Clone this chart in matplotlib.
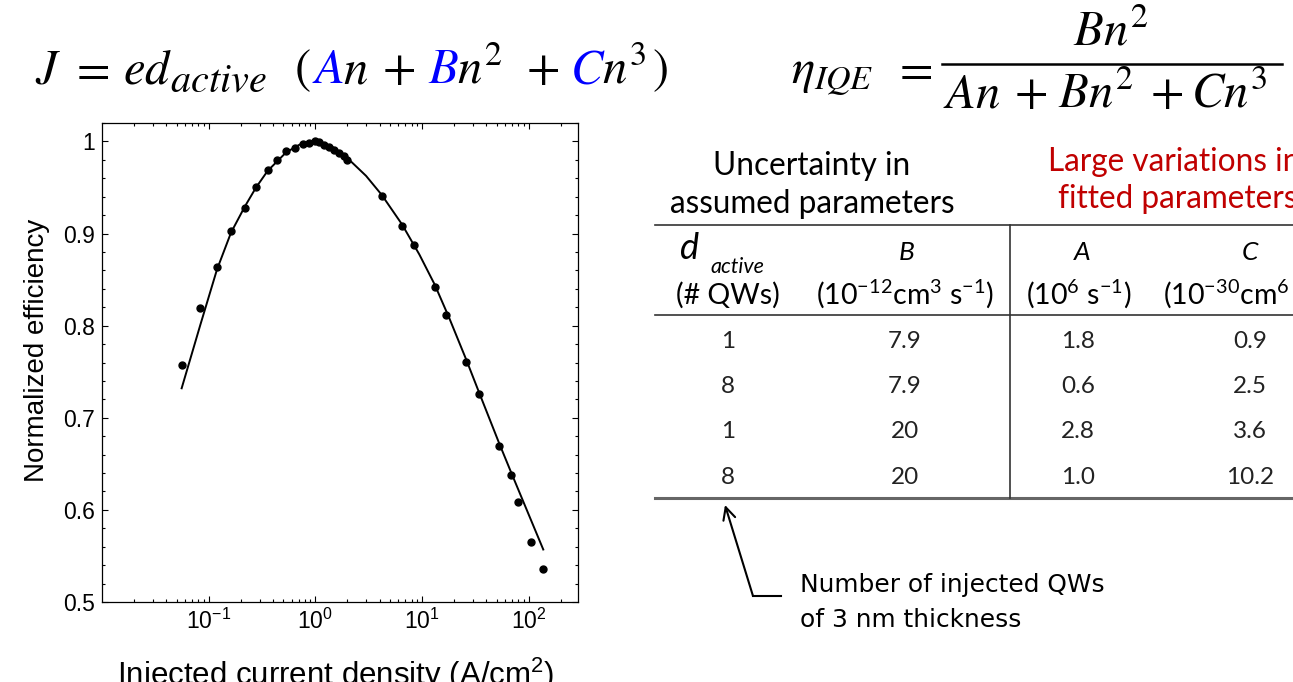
import numpy as np
import matplotlib
matplotlib.use('Agg')
import matplotlib.pyplot as plt
from matplotlib.ticker import FixedLocator, MultipleLocator, FuncFormatter, LogLocator, NullFormatter
from matplotlib.lines import Line2D

plt.rcParams['font.family'] = ['Liberation Sans', 'DejaVu Sans']
plt.rcParams['mathtext.fontset'] = 'custom'
plt.rcParams['mathtext.rm'] = 'Liberation Sans'
plt.rcParams['mathtext.it'] = 'Liberation Sans:italic'
plt.rcParams['mathtext.bf'] = 'Liberation Sans:bold'

# ---------------- data ----------------
J_meas = [0.0558, 0.0836, 0.1197, 0.162, 0.2175, 0.278, 0.357, 0.4375, 0.531, 0.64,
          0.772, 0.866, 1.0, 1.09, 1.21, 1.35, 1.51, 1.68, 1.87, 1.97,
          4.19, 6.49, 8.48, 13.15, 16.8, 26.0, 34.0, 53.1, 68.3, 78.8, 105, 137]
eff_meas = [0.7575, 0.8192, 0.8639, 0.9027, 0.9281, 0.9506, 0.9688, 0.980, 0.9898, 0.9924,
            0.997, 0.998, 1.0, 0.999, 0.9964, 0.9935, 0.9906, 0.987, 0.9837, 0.9797,
            0.9405, 0.9078, 0.8871, 0.8421, 0.8113, 0.7608, 0.7256, 0.6689, 0.6382, 0.6085, 0.5651, 0.5354]
J_fit = [0.0558, 0.0836, 0.1197, 0.162, 0.2175, 0.278, 0.357, 0.531, 0.708, 1.0,
         1.45, 1.97, 2.99, 4.19, 6.49, 9.44, 13.15, 18.0, 26.0, 34.0, 53.1, 68.3, 137]
eff_fit = [0.732, 0.801, 0.861, 0.901, 0.929, 0.950, 0.968, 0.988, 0.9964, 1.0,
           0.994, 0.9826, 0.9626, 0.942, 0.910, 0.8773, 0.8446, 0.8083, 0.763, 0.7285, 0.6718, 0.641, 0.557]
xtick_vals = [0.1, 1, 10, 100]
xtick_labels = [r'$10^{-1}$', r'$10^{0}$', r'$10^{1}$', r'$10^{2}$']

# table data
table_title_left = ['Uncertainty in', 'assumed parameters']
table_title_right = ['Large variations in', 'fitted parameters']
d_active = ['1', '8', '1', '8']
B_vals = ['7.9', '7.9', '20', '20']
A_vals = ['1.8', '0.6', '2.8', '1.0']
C_vals = ['0.9', '2.5', '3.6', '10.2']

W, H = 1293, 682
fig = plt.figure(figsize=(W / 100, H / 100), dpi=100)

# ---------------- chart ----------------
ax = fig.add_axes([102 / W, (H - 602) / H, 476 / W, 479 / H])
ax.set_xscale('log')
ax.plot(J_fit, eff_fit, color='black', lw=1.4, zorder=2)
ax.plot(J_meas, eff_meas, 'o', color='black', ms=5, zorder=3)
ax.set_xlim(0.01, 290)
ax.set_ylim(0.5, 1.02)
ax.xaxis.set_major_locator(FixedLocator(xtick_vals))
ax.xaxis.set_minor_locator(LogLocator(base=10, subs=np.arange(2, 10)))
ax.xaxis.set_minor_formatter(NullFormatter())
ax.set_xticklabels(xtick_labels)
ax.yaxis.set_major_locator(MultipleLocator(0.1))
ax.yaxis.set_minor_locator(MultipleLocator(0.02))
ax.yaxis.set_major_formatter(FuncFormatter(lambda v, p: f'{v:g}'))
ax.tick_params(which='both', direction='in', top=True, right=True, labelsize=16.5, width=0.8)
ax.tick_params(which='major', length=4.5, pad=5)
ax.tick_params(which='minor', length=2.5)
for s in ax.spines.values():
    s.set_linewidth(0.9)
ax.set_ylabel('Normalized efficiency', fontsize=20)
ax.yaxis.label.set_va('center')
ax.yaxis.set_label_coords(-0.1366, 0.526)
ax.set_xlabel('Injected current density (A/cm$^2$)', fontsize=22.5)
ax.xaxis.set_label_coords(0.49, -0.112)

# ---------------- overlay in pixel coords ----------------
ov = fig.add_axes([0, 0, 1, 1])
ov.set_xlim(0, W)
ov.set_ylim(H, 0)
ov.axis('off')
ov.patch.set_alpha(0)

blue = '#0000FF'
eq_fs = 35


def eq(x, y, s, color='black', ha='left', fs=eq_fs):
    ov.text(x, y, s, color=color, fontsize=fs, math_fontfamily='stix', ha=ha, va='baseline')


# equation 1 (glyph groups placed as in the reference)
base1 = 83
eq(35, base1, r'$J$')
eq(89, base1, r'$=$', ha='center')
eq(123, base1, r'$ed$')
eq(170, 92, r'$active$', fs=29)
eq(294, base1, r'$($')
eq(312, base1, r'$A$', blue)
eq(343, base1, r'$n$')
eq(399, base1, r'$+$', ha='center')
eq(428, base1, r'$B$', blue)
eq(457, base1, r'$n^2$')
eq(542, base1, r'$+$', ha='center')
eq(570, base1, r'$C$', blue)
eq(602, base1, r'$n^3$')
eq(668, base1, r'$)$', ha='right')

# equation 2
eq(791, base1, r'$\eta_{IQE}$')
eq(912, base1, r'$=$', ha='center')
ov.add_line(Line2D([942, 1282], [64, 64], color='black', lw=1.8))
eq(1111, 45, r'$Bn^2$', ha='center')
base2 = 107
eq(943, base2, r'$An$')
eq(1031, base2, r'$+$', ha='center')
eq(1058, base2, r'$Bn^2$')
eq(1167, base2, r'$+$', ha='center')
eq(1191, base2, r'$Cn^3$')

# ---------------- table ----------------
tf = 'Lato'
red = '#C00000'
tfs = 22.7
ov.text(812, 175, table_title_left[0], fontsize=tfs, family=tf, ha='center', va='baseline')
ov.text(812, 213, table_title_left[1], fontsize=tfs, family=tf, ha='center', va='baseline')
ov.text(1048, 171, table_title_right[0], fontsize=tfs, family=tf, ha='left', va='baseline', color=red)
ov.text(1058, 208, table_title_right[1], fontsize=tfs, family=tf, ha='left', va='baseline', color=red)

line_c = '#333333'
ov.add_line(Line2D([655, W], [225, 225], color=line_c, lw=1.2))
ov.add_line(Line2D([655, W], [315, 315], color=line_c, lw=1.2))
ov.add_line(Line2D([655, W], [498, 498], color='#666666', lw=2.2))
ov.add_line(Line2D([1010, 1010], [225, 498], color=line_c, lw=1.2))

ov.text(680, 259, 'd', fontsize=26, family=tf, style='italic', ha='left', va='baseline')
ov.text(710, 273, 'active', fontsize=15.5, family=tf, style='italic', ha='left', va='baseline')
ov.text(907, 260, 'B', fontsize=19, family=tf, style='italic', ha='center', va='baseline')
ov.text(1082, 260, 'A', fontsize=19, family=tf, style='italic', ha='center', va='baseline')
ov.text(1250, 260, 'C', fontsize=19, family=tf, style='italic', ha='center', va='baseline')

ufs = 20.5
ov.text(728, 304, '(# QWs)', fontsize=ufs, family=tf, ha='center', va='baseline')
ov.text(905, 304, r'(10$^{\mathregular{-12}}$cm$^{\mathregular{3}}$ s$^{\mathregular{-1}}$)',
        fontsize=ufs, family=tf, ha='center', va='baseline')
ov.text(1079, 304, r'(10$^{\mathregular{6}}$ s$^{\mathregular{-1}}$)',
        fontsize=ufs, family=tf, ha='center', va='baseline')
ov.text(1163, 304, r'(10$^{\mathregular{-30}}$cm$^{\mathregular{6}}$ s$^{\mathregular{-1}}$)',
        fontsize=ufs, family=tf, ha='left', va='baseline')

row_y = [348, 393, 438, 484]
col_x = [728, 905, 1078, 1250]
for i, y in enumerate(row_y):
    for cx, vals in zip(col_x, [d_active, B_vals, A_vals, C_vals]):
        ov.text(cx, y, vals[i], fontsize=17.5, family=tf, ha='center', va='baseline', color='#222222')

# annotation
ov.annotate('', xy=(725, 505), xytext=(753, 596),
            arrowprops=dict(arrowstyle='->', lw=1.5, color='black', mutation_scale=22, shrinkA=0, shrinkB=0))
ov.add_line(Line2D([753, 781], [596, 596], color='black', lw=1.5))
ov.text(800, 592, 'Number of injected QWs', fontsize=17.9, family='DejaVu Sans', ha='left', va='baseline')
ov.text(800, 627, 'of 3 nm thickness', fontsize=17.9, family='DejaVu Sans', ha='left', va='baseline')

fig.savefig('out.png', dpi=100)
